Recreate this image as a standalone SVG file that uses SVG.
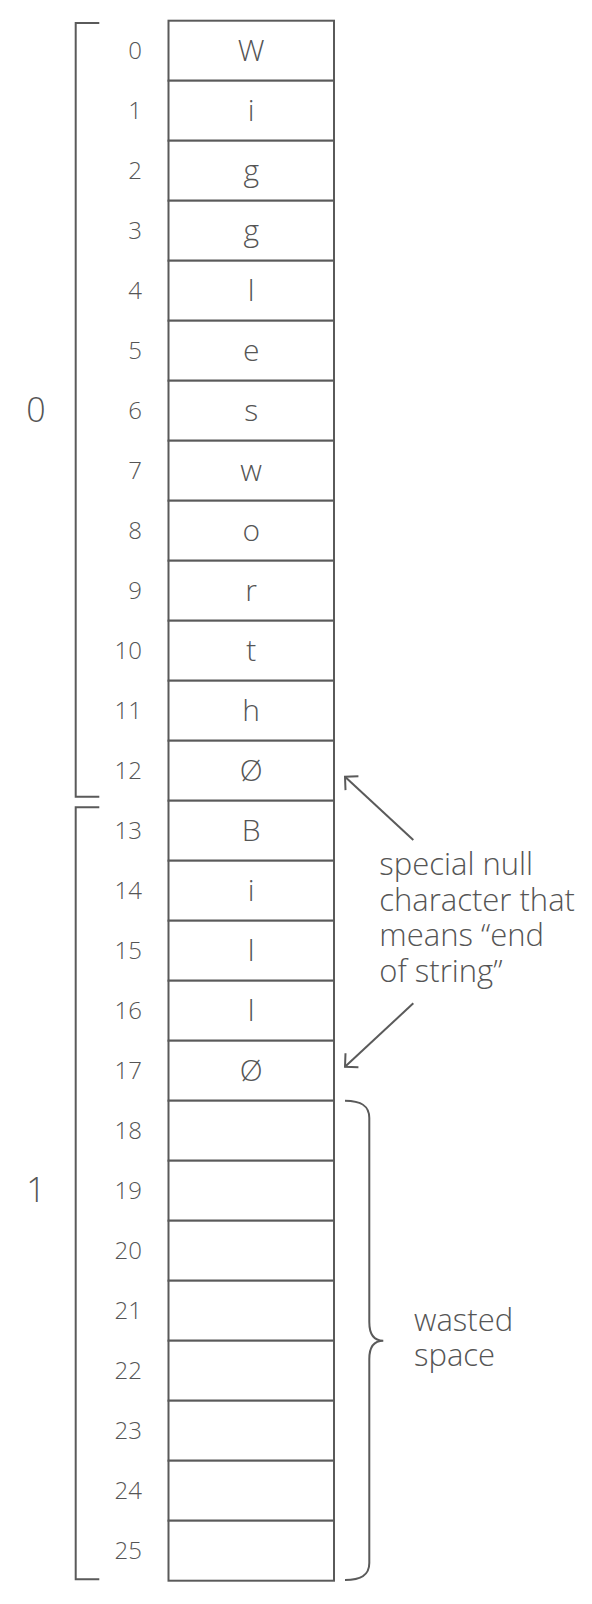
<svg xmlns="http://www.w3.org/2000/svg" width="592" height="1604" viewBox="0 0 592 1604">
<style>
  .cell { fill: #ffffff; stroke: #5a5a5a; stroke-width: 2; }
  .ln { fill: none; stroke: #5a5a5a; stroke-width: 2; }
  text { font-family: "Open Sans", "DejaVu Sans", sans-serif; font-weight: 300; fill: #555555; }
  .idx { font-size: 24px; text-anchor: end; }
  .ch { font-size: 30px; text-anchor: middle; }
  .grp { font-size: 34px; text-anchor: middle; }
  .note { font-size: 31px; }
</style>
<defs>
  <marker id="ah" markerUnits="userSpaceOnUse" markerWidth="30" markerHeight="30" refX="0" refY="0" viewBox="-15 -15 30 30" orient="auto" overflow="visible">
    <path d="M-9.5,-9.5 L0,0 L-9.5,9.5" fill="none" stroke="#5a5a5a" stroke-width="2"/>
  </marker>
</defs>
<rect width="592" height="1604" fill="#ffffff"/>

<g id="brackets">
  <path id="bracket-0" class="ln" d="M99.3,23 H75.7 V796.7 H99.3"/>
  <path id="bracket-1" class="ln" d="M99.3,807.3 H75.7 V1579.3 H99.3"/>
  <text class="grp" x="36" y="422">0</text>
  <text class="grp" x="36" y="1202">1</text>
</g>

<g id="cells">
  <g id="cell-0"><rect class="cell" x="168.5" y="20.7" width="165.5" height="60"/><text class="idx" x="142" y="59.2">0</text><text class="ch" x="251.2" y="61">W</text></g>
  <g id="cell-1"><rect class="cell" x="168.5" y="80.7" width="165.5" height="60"/><text class="idx" x="142" y="119.2">1</text><text class="ch" x="251.2" y="121">i</text></g>
  <g id="cell-2"><rect class="cell" x="168.5" y="140.7" width="165.5" height="60"/><text class="idx" x="142" y="179.2">2</text><text class="ch" x="251.2" y="181">g</text></g>
  <g id="cell-3"><rect class="cell" x="168.5" y="200.7" width="165.5" height="60"/><text class="idx" x="142" y="239.2">3</text><text class="ch" x="251.2" y="241">g</text></g>
  <g id="cell-4"><rect class="cell" x="168.5" y="260.7" width="165.5" height="60"/><text class="idx" x="142" y="299.2">4</text><text class="ch" x="251.2" y="301">l</text></g>
  <g id="cell-5"><rect class="cell" x="168.5" y="320.7" width="165.5" height="60"/><text class="idx" x="142" y="359.2">5</text><text class="ch" x="251.2" y="361">e</text></g>
  <g id="cell-6"><rect class="cell" x="168.5" y="380.7" width="165.5" height="60"/><text class="idx" x="142" y="419.2">6</text><text class="ch" x="251.2" y="421">s</text></g>
  <g id="cell-7"><rect class="cell" x="168.5" y="440.7" width="165.5" height="60"/><text class="idx" x="142" y="479.2">7</text><text class="ch" x="251.2" y="481">w</text></g>
  <g id="cell-8"><rect class="cell" x="168.5" y="500.7" width="165.5" height="60"/><text class="idx" x="142" y="539.2">8</text><text class="ch" x="251.2" y="541">o</text></g>
  <g id="cell-9"><rect class="cell" x="168.5" y="560.7" width="165.5" height="60"/><text class="idx" x="142" y="599.2">9</text><text class="ch" x="251.2" y="601">r</text></g>
  <g id="cell-10"><rect class="cell" x="168.5" y="620.7" width="165.5" height="60"/><text class="idx" x="142" y="659.2">10</text><text class="ch" x="251.2" y="661">t</text></g>
  <g id="cell-11"><rect class="cell" x="168.5" y="680.7" width="165.5" height="60"/><text class="idx" x="142" y="719.2">11</text><text class="ch" x="251.2" y="721">h</text></g>
  <g id="cell-12"><rect class="cell" x="168.5" y="740.7" width="165.5" height="60"/><text class="idx" x="142" y="779.2">12</text><text class="ch" x="251.2" y="781">Ø</text></g>
  <g id="cell-13"><rect class="cell" x="168.5" y="800.7" width="165.5" height="60"/><text class="idx" x="142" y="839.2">13</text><text class="ch" x="251.2" y="841">B</text></g>
  <g id="cell-14"><rect class="cell" x="168.5" y="860.7" width="165.5" height="60"/><text class="idx" x="142" y="899.2">14</text><text class="ch" x="251.2" y="901">i</text></g>
  <g id="cell-15"><rect class="cell" x="168.5" y="920.7" width="165.5" height="60"/><text class="idx" x="142" y="959.2">15</text><text class="ch" x="251.2" y="961">l</text></g>
  <g id="cell-16"><rect class="cell" x="168.5" y="980.7" width="165.5" height="60"/><text class="idx" x="142" y="1019.2">16</text><text class="ch" x="251.2" y="1021">l</text></g>
  <g id="cell-17"><rect class="cell" x="168.5" y="1040.7" width="165.5" height="60"/><text class="idx" x="142" y="1079.2">17</text><text class="ch" x="251.2" y="1081">Ø</text></g>
  <g id="cell-18"><rect class="cell" x="168.5" y="1100.7" width="165.5" height="60"/><text class="idx" x="142" y="1139.2">18</text></g>
  <g id="cell-19"><rect class="cell" x="168.5" y="1160.7" width="165.5" height="60"/><text class="idx" x="142" y="1199.2">19</text></g>
  <g id="cell-20"><rect class="cell" x="168.5" y="1220.7" width="165.5" height="60"/><text class="idx" x="142" y="1259.2">20</text></g>
  <g id="cell-21"><rect class="cell" x="168.5" y="1280.7" width="165.5" height="60"/><text class="idx" x="142" y="1319.2">21</text></g>
  <g id="cell-22"><rect class="cell" x="168.5" y="1340.7" width="165.5" height="60"/><text class="idx" x="142" y="1379.2">22</text></g>
  <g id="cell-23"><rect class="cell" x="168.5" y="1400.7" width="165.5" height="60"/><text class="idx" x="142" y="1439.2">23</text></g>
  <g id="cell-24"><rect class="cell" x="168.5" y="1460.7" width="165.5" height="60"/><text class="idx" x="142" y="1499.2">24</text></g>
  <g id="cell-25"><rect class="cell" x="168.5" y="1520.7" width="165.5" height="60"/><text class="idx" x="142" y="1559.2">25</text></g>
</g>

<g id="null-note">
  <text class="note" x="379.3"><tspan x="379.3" y="875">special null</tspan><tspan x="379.3" y="910.7">character that</tspan><tspan x="379.3" y="946.3">means “end</tspan><tspan x="379.3" y="982">of string”</tspan></text>
</g>

<g id="wasted-note">
  <path id="brace" class="ln" d="M345,1100.7 C360,1100.7 369.3,1105 369.3,1118 L369.3,1322 C369.3,1334 374,1340.7 383.3,1340.7 C374,1340.7 369.3,1347 369.3,1359 L369.3,1563 C369.3,1576 360,1580 345,1580"/>
  <text class="note" x="414"><tspan x="414" y="1330.7">wasted</tspan><tspan x="414" y="1366.4">space</tspan></text>
</g>

<g id="connectors">
  <line class="ln" x1="413.3" y1="840" x2="345" y2="776.7" marker-end="url(#ah)"/>
  <line class="ln" x1="413.3" y1="1003.3" x2="345" y2="1066.7" marker-end="url(#ah)"/>
</g>
</svg>
